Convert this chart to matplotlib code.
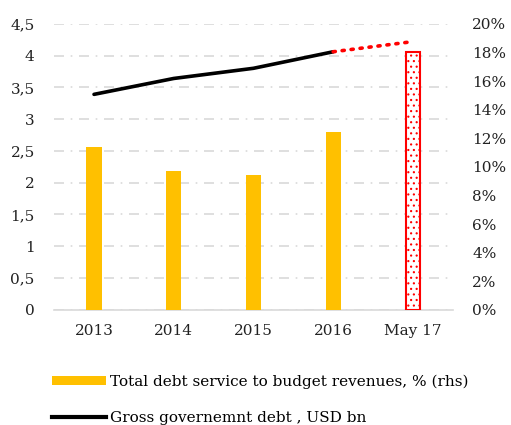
import matplotlib.pyplot as plt
from matplotlib.patches import Patch
from matplotlib.lines import Line2D

categories = ['2013', '2014', '2015', '2016', 'May 17']
debt_service_pct = [11.4, 9.7, 9.4, 12.4, 18.0]   # rhs, bars
gross_debt_bn = [3.39, 3.64, 3.80, 4.06, 4.22]     # lhs, line
left_ticks = [0, 0.5, 1, 1.5, 2, 2.5, 3, 3.5, 4, 4.5]
right_ticks = [0, 2, 4, 6, 8, 10, 12, 14, 16, 18, 20]

plt.rcParams['font.family'] = ['DejaVu Serif']
plt.rcParams['hatch.linewidth'] = 0.8

fig = plt.figure(figsize=(5.11, 4.25), dpi=100)
ax = fig.add_axes([0.106, 0.271, 0.78, 0.673])
ax2 = ax.twinx()

x = list(range(len(categories)))

# line: actual years solid black, latest point dotted red
ax.plot(x[:4], gross_debt_bn[:4], color='black', lw=2.6, solid_capstyle='round', zorder=3)
ax.plot(x[3:], gross_debt_bn[3:], color='red', lw=2.6, linestyle=(0, (0.6, 1.9)),
        dash_capstyle='round', zorder=3)

# bars on the right axis
ax2.bar(x[:4], debt_service_pct[:4], width=0.19, color='#ffc000', zorder=2)
ax2.bar(x[4], debt_service_pct[4], width=0.17, facecolor='white', edgecolor='red',
        hatch='...', linewidth=1.5, zorder=2)

ax.set_xlim(-0.5, 4.5)
ax.set_ylim(0, 4.5)
ax2.set_ylim(0, 20)

ax.set_yticks(left_ticks)
ax.set_yticklabels([('%g' % t).replace('.', ',') for t in left_ticks])
ax2.set_yticks(right_ticks)
ax2.set_yticklabels(['%d%%' % t for t in right_ticks])
ax.set_xticks(x)
ax.set_xticklabels(categories)

ax.yaxis.grid(True, color='#d9d9d9', lw=1.2, linestyle=(0, (6, 4, 1, 4)))
ax.set_axisbelow(True)

for a in (ax, ax2):
    for s in a.spines.values():
        s.set_visible(False)
    a.tick_params(length=0, labelsize=11, colors='#222222')
ax.spines['bottom'].set_visible(True)
ax.spines['bottom'].set_color('#d9d9d9')
ax.spines['bottom'].set_linewidth(1.2)
ax.tick_params(axis='y', pad=14)
ax.tick_params(axis='x', pad=10)
ax2.tick_params(axis='y', pad=14)

handles = [Patch(facecolor='#ffc000', edgecolor='none'),
           Line2D([], [], color='black', lw=3)]
labels = ['Total debt service to budget revenues, % (rhs)',
          'Gross governemnt debt , USD bn']
fig.legend(handles, labels, loc='upper left', bbox_to_anchor=(0.09, 0.133),
           frameon=False, fontsize=11, handlelength=3.5, handleheight=0.6,
           handletextpad=0.3, labelspacing=1.45, borderaxespad=0)

fig.savefig('out.png', dpi=100)
